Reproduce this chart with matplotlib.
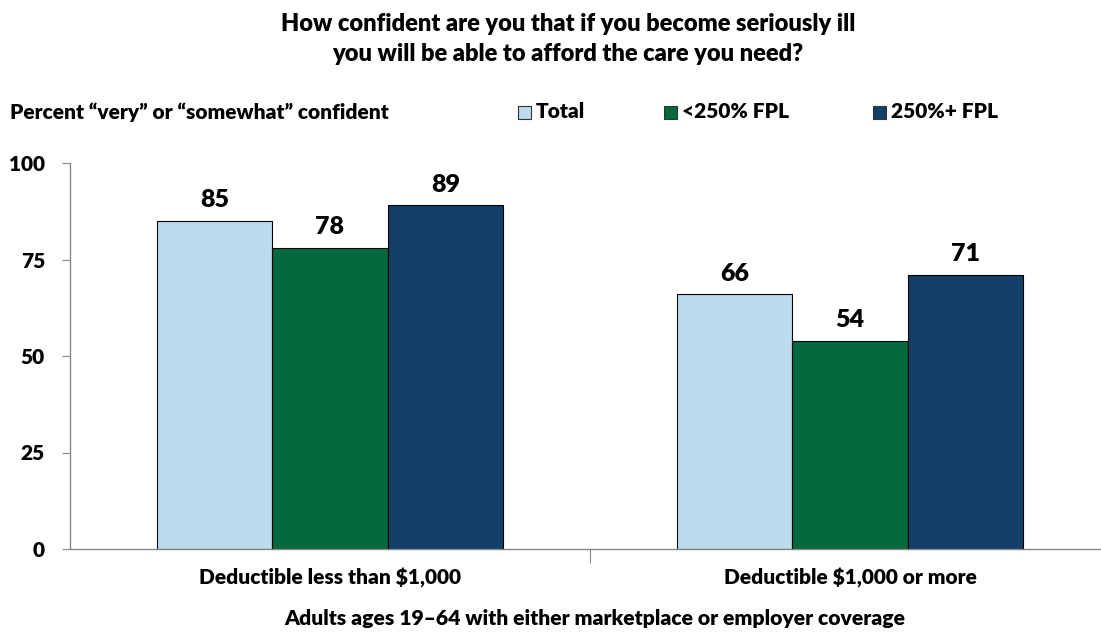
import numpy as np
import matplotlib.pyplot as plt
from matplotlib.patches import Rectangle

plt.rcParams['font.family'] = ['Lato', 'DejaVu Sans']
plt.rcParams['font.weight'] = 'heavy'

categories = ['Deductible less than $1,000', 'Deductible $1,000 or more']
series_names = ['Total', '<250% FPL', '250%+ FPL']
total = [85, 66]
low_income = [78, 54]
high_income = [89, 71]
colors = ['#BCDBEC', '#02693F', '#123F67']

W, H = 1101, 637
fig = plt.figure(figsize=(W / 100, H / 100), dpi=100)

# axes placed in pixel terms: x from 70 to ~1110, y from 549 (0) to 163 (100)
x0, x1 = 70, 1110
y0, y1 = 549, 163
ax = fig.add_axes([x0 / W, 1 - y0 / H, (x1 - x0) / W, (y0 - y1) / H])

x = np.arange(len(categories))
bw = 0.222
for i, (vals, c) in enumerate(zip([total, low_income, high_income], colors)):
    pos = x + (i - 1) * bw
    ax.bar(pos, vals, bw, color=c, edgecolor='black', linewidth=0.8, zorder=2)
    for p, v in zip(pos, vals):
        ax.text(p, v + 2.5, str(v), ha='center', va='bottom',
                fontsize=18, fontweight='heavy')

ax.set_xlim(-0.5, 1.5)
ax.set_ylim(0, 100)
ax.set_yticks([0, 25, 50, 75, 100])
ax.tick_params(axis='y', labelsize=15, length=6, color='#888888', pad=12)
for t in ax.get_yticklabels():
    t.set_fontweight('heavy')
ax.set_xticks([0.5])
ax.set_xticklabels([''])
ax.tick_params(axis='x', length=10, color='#888888', direction='out')
for s in ['top', 'right']:
    ax.spines[s].set_visible(False)
for s in ['left', 'bottom']:
    ax.spines[s].set_color('#888888')
    ax.spines[s].set_linewidth(1)

for xi, lab in zip(x, categories):
    ax.text(xi, -7.5, lab, ha='center', va='center', fontsize=15,
            fontweight='heavy', transform=ax.transData, clip_on=False)

fig.text(568 / W, 1 - 39 / H,
         'How confident are you that if you become seriously ill\nyou will be able to afford the care you need?',
         ha='center', va='center', fontsize=17, fontweight='heavy', linespacing=1.45)
fig.text(10 / W, 1 - 112 / H, 'Percent \u201cvery\u201d or \u201csomewhat\u201d confident',
         ha='left', va='center', fontsize=15, fontweight='heavy')
fig.text(595 / W, 1 - 618 / H,
         'Adults ages 19\u201364 with either marketplace or employer coverage',
         ha='center', va='center', fontsize=15.2, fontweight='heavy')

# legend drawn as figure patches
leg_x = [518, 664, 873]
for lx, name, c in zip(leg_x, series_names, colors):
    fig.patches.append(Rectangle((lx / W, 1 - 119 / H), 13 / W, 13 / H,
                                 transform=fig.transFigure, facecolor=c,
                                 edgecolor='#333333', linewidth=0.8))
    fig.text((lx + 18) / W, 1 - 112 / H, name, ha='left', va='center',
             fontsize=15, fontweight='heavy')

fig.savefig('out.png', dpi=100)
